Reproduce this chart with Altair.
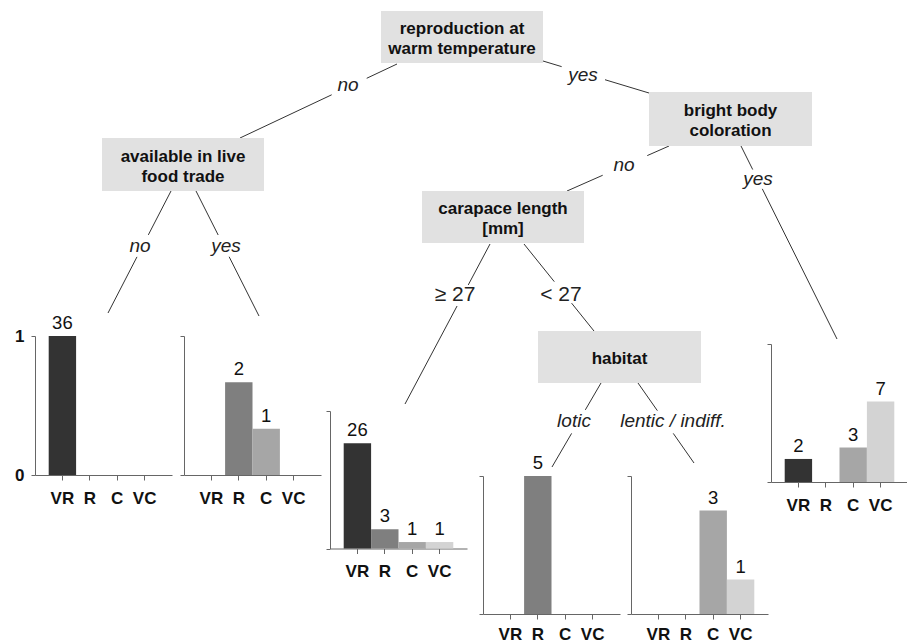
import altair as alt
import pandas as pd

# ---------------------------------------------------------------- data
CLASSES = ["VR", "R", "C", "VC"]
CLASS_COLORS = ["#333333", "#7f7f7f", "#a6a6a6", "#d3d3d3"]

NODE_LABELS = [
    "reproduction at\nwarm temperature",
    "available in live\nfood trade",
    "bright body\ncoloration",
    "carapace length\n[mm]",
    "habitat",
]

EDGE_LABELS = ["no", "yes", "no", "yes", "no", "yes", "≥ 27", "< 27", "lotic", "lentic / indiff."]

# species counts per terminal node (VR, R, C, VC)
LEAF_COUNTS = [
    [36, 0, 0, 0],
    [0, 2, 1, 0],
    [26, 3, 1, 1],
    [0, 5, 0, 0],
    [0, 0, 3, 1],
    [2, 0, 3, 7],
]
# class shares drawn as bar heights
LEAF_SHARES = [
    [1.0, 0.0, 0.0, 0.0],
    [0.0, 0.667, 0.333, 0.0],
    [0.765, 0.14, 0.047, 0.047],
    [0.0, 1.0, 0.0, 0.0],
    [0.0, 0.0, 0.75, 0.25],
    [0.167, 0.0, 0.25, 0.583],
]

# ---------------------------------------------------------------- layout
W, H = 907, 644
FONT = "Liberation Sans"
INK = "#111111"
LINE = "#333333"
AXIS = "#666666"
NODE_LINE_H = 20

# node boxes: x1, x2, y1, y2 (pixels)
NODE_BOX = [
    (381, 543, 11, 63),
    (102, 264, 138, 191),
    (649, 812, 92, 146),
    (422, 584, 191, 243),
    (538, 701, 331, 383),
]

# edges: start, end, gap (fractions along the edge), label centre, italic
EDGE_GEOM = [
    ((397, 64), (240, 138), 0.193, 0.416, (348, 85), True),
    ((543, 61), (649, 93), 0.176, 0.585, (583, 75), True),
    ((171, 191), (108, 313), 0.36, 0.54, (140, 246), True),
    ((196, 191), (259, 316), 0.352, 0.526, (226, 246), True),
    ((669, 146), (567, 191), 0.213, 0.65, (624, 165), True),
    ((741, 146), (837, 339), 0.122, 0.222, (758, 179), True),
    ((490, 244), (405, 404), 0.256, 0.3875, (455, 295), False),
    ((524, 244), (594, 331), 0.433, 0.68, (561, 295), False),
    ((601, 383), (552, 467), 0.32, 0.6, (574, 421), True),
    ((638, 383), (694, 463), 0.346, 0.63, (673, 421), True),
]

# leaf panels: axis x, top (share 1), bottom (share 0), category label padding
LEAF_FRAME = [
    (35, 336, 475, 10),
    (184, 336, 475, 10),
    (330, 411, 548.5, 10),
    (483, 476, 614, 7),
    (631, 476, 614, 7),
    (771, 344, 482, 10),
]
PANEL_W = 137

px = dict(scale=None, axis=None)

layers = []

# ---------------------------------------------------------------- tree edges
seg_rows = []
for (p, q, t0, t1, _, _) in EDGE_GEOM:
    for a, b in ((0.0, t0), (t1, 1.0)):
        seg_rows.append({
            "x": p[0] + a * (q[0] - p[0]), "y": p[1] + a * (q[1] - p[1]),
            "x2": p[0] + b * (q[0] - p[0]), "y2": p[1] + b * (q[1] - p[1]),
        })
layers.append(
    alt.Chart(pd.DataFrame(seg_rows)).mark_rule(color=LINE, strokeWidth=1).encode(
        x=alt.X("x:Q", **px), y=alt.Y("y:Q", **px), x2="x2:Q", y2="y2:Q"
    )
)

# ---------------------------------------------------------------- edge labels
lab_df = pd.DataFrame([
    {"x": g[4][0], "y": g[4][1], "label": t, "italic": g[5]}
    for t, g in zip(EDGE_LABELS, EDGE_GEOM)
])
layers.append(
    alt.Chart(lab_df[lab_df["italic"]]).mark_text(
        font=FONT, fontSize=19, fontStyle="italic",
        align="center", baseline="middle", color="#222222",
    ).encode(x=alt.X("x:Q", **px), y=alt.Y("y:Q", **px), text="label:N")
)
layers.append(
    alt.Chart(lab_df[~lab_df["italic"]]).mark_text(
        font=FONT, fontSize=21, align="center", baseline="middle", color="#222222",
    ).encode(x=alt.X("x:Q", **px), y=alt.Y("y:Q", **px), text="label:N")
)

# ---------------------------------------------------------------- split nodes
box_df = pd.DataFrame([
    {"x": b[0], "x2": b[1], "y": b[2], "y2": b[3],
     "cx": (b[0] + b[1]) / 2,
     # first text line sits at cy; lift multi-line labels so the block is centred
     "cy": (b[2] + b[3]) / 2 + 2 - (t.count("\n")) * NODE_LINE_H / 2,
     "label": t}
    for t, b in zip(NODE_LABELS, NODE_BOX)
])
layers.append(
    alt.Chart(box_df).mark_rect(fill="#e1e1e1").encode(
        x=alt.X("x:Q", **px), x2="x2:Q", y=alt.Y("y:Q", **px), y2="y2:Q"
    )
)
layers.append(
    alt.Chart(box_df).mark_text(
        font=FONT, fontSize=17, fontWeight="bold", lineBreak="\n", lineHeight=NODE_LINE_H,
        align="center", baseline="middle", color=INK,
    ).encode(x=alt.X("cx:Q", **px), y=alt.Y("cy:Q", **px), text="label:N")
)

# ---------------------------------------------------------------- leaf bar panels
for i, (x0, top, bottom, lab_pad) in enumerate(LEAF_FRAME):
    df = pd.DataFrame({"cls": CLASSES, "count": LEAF_COUNTS[i], "share": LEAF_SHARES[i]})

    def xs():
        return alt.Scale(type="band", domain=CLASSES, range=[x0, x0 + PANEL_W],
                         paddingInner=0, paddingOuter=0.5)

    def ys():
        return alt.Scale(domain=[0, 1], range=[bottom, top], nice=False, zero=True)

    x_axis = alt.Axis(
        orient="bottom", offset=bottom - H, title=None, grid=False, labelAngle=0,
        labelFont=FONT, labelFontSize=17, labelFontWeight="bold", labelColor=INK,
        labelPadding=lab_pad, tickSize=5, domainColor=AXIS, tickColor=AXIS,
    )
    y_axis = alt.Axis(
        orient="left", offset=-x0, title=None, grid=False, values=[0, 1],
        labels=(i == 0), labelFont=FONT, labelFontSize=17, labelFontWeight="bold",
        labelColor=INK, labelPadding=7, tickSize=4, domainColor=AXIS, tickColor=AXIS,
        format="d",
    )

    # axes carried by a full (unfiltered) transparent layer
    layers.append(
        alt.Chart(df).mark_bar(opacity=0).encode(
            x=alt.X("cls:N", scale=xs(), axis=x_axis),
            y=alt.Y("share:Q", scale=ys(), axis=y_axis),
        )
    )
    layers.append(
        alt.Chart(df).transform_filter("datum.share > 0").mark_bar().encode(
            x=alt.X("cls:N", scale=xs(), axis=None),
            y=alt.Y("share:Q", scale=ys(), axis=None),
            color=alt.Color("cls:N", scale=alt.Scale(domain=CLASSES, range=CLASS_COLORS),
                            legend=None),
        )
    )
    layers.append(
        alt.Chart(df).transform_filter("datum.count > 0").mark_text(
            font=FONT, fontSize=18.5, dy=-7, baseline="alphabetic", align="center", color=INK,
        ).encode(
            x=alt.X("cls:N", scale=xs(), axis=None),
            y=alt.Y("share:Q", scale=ys(), axis=None),
            text="count:Q",
        )
    )

chart = (
    alt.layer(*layers)
    .resolve_scale(x="independent", y="independent", color="independent")
    .resolve_axis(x="independent", y="independent")
    .properties(width=W, height=H, padding=0, autosize=alt.AutoSizeParams(type="none"),
                background="white")
    .configure_view(stroke=None)
)

chart.save("out.html", embed_options={"renderer": "svg", "actions": False})
